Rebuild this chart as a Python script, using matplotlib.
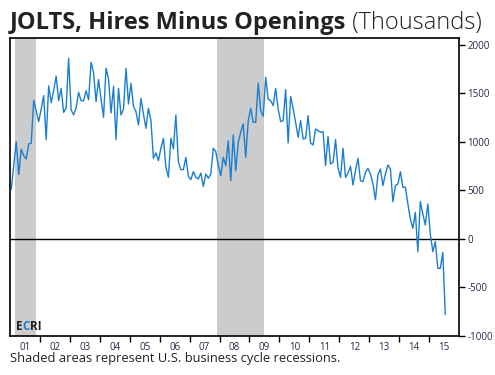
import numpy as np
import pandas as pd
import matplotlib
matplotlib.use('Agg')
import matplotlib.pyplot as plt

# JOLTS hires minus openings, thousands, monthly from Jan 2001
start_month = '2001-01'
values = [
    515, 760, 1003, 665, 925, 859, 825, 980, 987, 1430, 1320, 1210,
    1340, 1478, 1024, 1578, 1405, 1530, 1680, 1426, 1550, 1306, 1350, 1863,
    1330, 1280, 1350, 1512, 1426, 1426, 1529, 1436, 1822, 1715, 1416, 1643,
    1443, 1255, 1760, 1650, 1299, 1574, 1024, 1553, 1278, 1340, 1760, 1392,
    1605, 1368, 1312, 1175, 1450, 1289, 1141, 1347, 1220, 832, 887, 808,
    935, 1038, 739, 636, 1038, 928, 1278, 797, 715, 715, 842, 646,
    612, 694, 636, 619, 680, 543, 670, 626, 670, 935, 900, 756,
    653, 842, 756, 1013, 601, 1072, 704, 997, 1100, 1186, 842, 1220,
    1347, 1203, 1203, 1608, 1323, 1265, 1667, 1443, 1426, 1374, 1553, 1340,
    1210, 1220, 1540, 990, 1471, 1347, 1203, 1048, 1220, 1031, 1038, 1271,
    990, 969, 1134, 1117, 1100, 1107, 756, 1058, 773, 790, 1024, 729,
    636, 935, 636, 680, 749, 557, 704, 832, 601, 591, 688, 729,
    670, 567, 405, 660, 722, 550, 670, 763, 722, 385, 550, 567,
    694, 533, 533, 361, 206, 110, 275, -131, 385, 258, 144, 361,
    52, -131, -28, -302, -302, -138, -775,
]
# recessions (start, end) in decimal years
rec_start = [2001.17, 2007.92]
rec_end = [2001.88, 2009.5]
year_labels = ['01', '02', '03', '04', '05', '06', '07', '08', '09', '10',
               '11', '12', '13', '14', '15']
y_ticks = [2000, 1500, 1000, 500, 0, -500, -1000]

months = pd.period_range(start_month, periods=len(values), freq='M')
x = months.year + (months.month - 0.5) / 12.0

plt.rcParams['font.family'] = ['Open Sans', 'DejaVu Sans']
fig = plt.figure(figsize=(4.95, 3.75), dpi=100)
ax = fig.add_axes([10 / 495, 1 - 336 / 375, 449 / 495, 298 / 375])

for a, b in zip(rec_start, rec_end):
    ax.axvspan(a, b, color='#cccccc', lw=0, zorder=0)
ax.axhline(0, color='black', lw=1.0, zorder=1)
ax.plot(x, values, color='#1a7fd0', lw=1.0, zorder=2)

ax.set_xlim(2001, 2016)
ax.set_ylim(-1000, 2072)
for s in ax.spines.values():
    s.set_linewidth(1.2)
    s.set_color('black')

ax.yaxis.tick_right()
ax.set_yticks(y_ticks)
ax.set_yticklabels([str(t) for t in y_ticks])
ax.tick_params(axis='y', direction='out', length=4, width=1, pad=2,
               labelsize=7, labelcolor='#23284a')

yrs = np.arange(2001, 2001 + len(year_labels))
ax.set_xticks(yrs[1:])
ax.set_xticklabels([])
ax.set_xticks(yrs + 0.5, minor=True)
ax.set_xticklabels(year_labels, minor=True)
ax.tick_params(axis='x', which='major', direction='out', length=4, width=1)
ax.tick_params(axis='x', which='minor', length=0, pad=4, labelsize=7,
               labelcolor='#23284a')

fig.canvas.draw()
r = fig.canvas.get_renderer()


def chain(parts, x0, y0, size, transform=fig.transFigure, gap=0.0):
    xx = x0
    for s, w, c in parts:
        t = fig.text(xx, y0, s, fontsize=size, fontweight=w, color=c,
                     va='baseline', ha='left', transform=transform)
        bb = t.get_window_extent(renderer=r)
        xx = transform.inverted().transform((bb.x1, bb.y0))[0] + gap


chain([('JOLTS, Hires Minus Openings', 'bold', '#222222'),
       (' (Thousands)', 'light', '#222222')],
      10 / 495, 1 - 29 / 375, 17)
chain([('E', 'bold', '#222222'), ('C', 'bold', '#1a7fd0'),
       ('RI', 'bold', '#222222')],
      16 / 495, 1 - 330 / 375, 8.5)
fig.text(10 / 495, 1 - 362 / 375,
         'Shaded areas represent U.S. business cycle recessions.',
         fontsize=9.3, color='#222222', va='baseline', ha='left')

fig.savefig('out.png', dpi=100)
